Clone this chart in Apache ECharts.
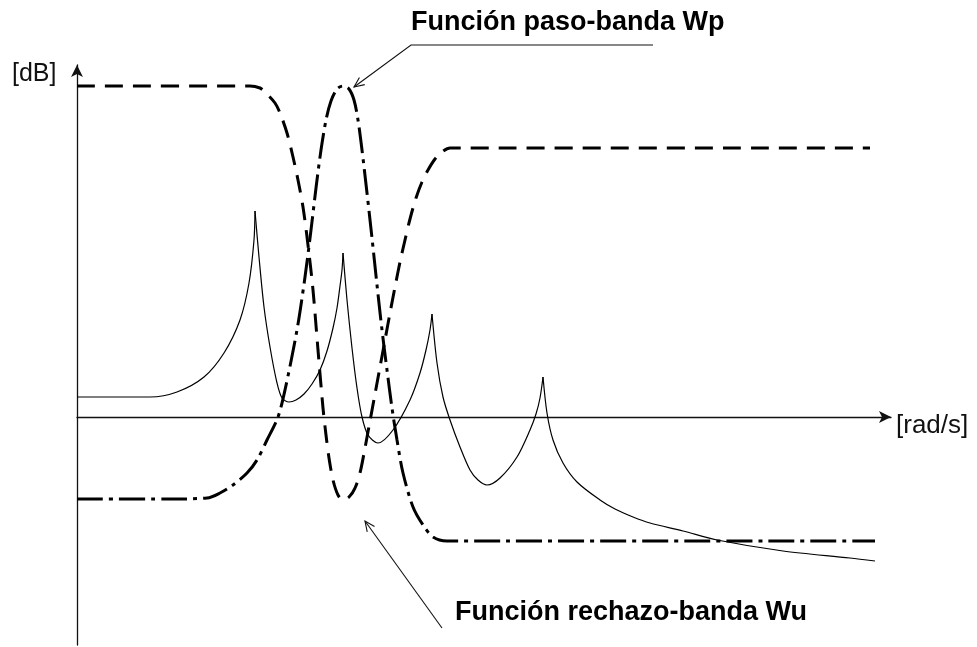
<!DOCTYPE html>
<html>
<head>
<meta charset="utf-8">
<script src="https://cdn.jsdelivr.net/npm/echarts@6/dist/echarts.min.js"></script>
<style>
  html, body { margin: 0; padding: 0; background: #fff; }
  #chart { width: 977px; height: 647px; }
</style>
</head>
<body>
<div id="chart"></div>
<script>
// Frequency runs in arbitrary units from the origin; level in arbitrary dB units (0 = axis).

// Plant response |G(jw)| with its resonances (solid thin line)
const plantResponse = [
  [0, 20], [73, 20], [100, 25], [127, 40], [147, 64], [163, 97], [172, 134], [177, 177], [178, 206],
  [182, 160], [187, 110], [193, 70], [200, 34], [205, 19], [212, 15], [219, 17], [227, 23], [235, 33], [243, 47],
  [250, 66], [256, 89], [260, 109], [263, 131], [265, 147], [266, 164],
  [270, 117], [275, 69], [280, 29], [285, 0], [291, -18], [301, -26], [316, -13], [333, 17], [343, 44], [349, 67], [353, 87], [355, 103],
  [360, 54], [366, 20], [373, -3], [383, -30], [393, -53], [401, -63], [410, -68], [423, -61], [440, -40], [453, -13], [459, 3], [463, 19], [466, 40],
  [470, 4], [476, -23], [486, -46], [500, -65], [523, -83], [538, -92], [556, -100], [573, -106], [606, -114], [640, -123],
  [706, -134], [773, -141], [798, -144]
];
// Frequencies of the resonance peaks (sharp corners of the plant response)
const resonanceW = [178, 266, 355, 466];

// Band-pass weighting Wp (dash-dot)
const bandPassWp = [
  [0, -82], [90, -82], [130, -81], [143, -76], [156, -68], [170, -56], [180, -43], [190, -23], [201, 0],
  [208, 27], [220, 87], [228, 140], [234, 187], [239, 229], [244, 267], [249, 297], [254, 316], [260, 328], [266, 331],
  [272, 328], [277, 317], [281, 297], [285, 267], [290, 224], [295, 179], [300, 132], [305, 87], [310, 47], [315, 9],
  [320, -23], [326, -56], [336, -90], [346, -108], [356, -120], [370, -124], [798, -124]
];

// Band-stop weighting Wu (dashed)
const bandStopWu = [
  [0, 331], [173, 331], [183, 329], [188, 325], [198, 314], [203, 304], [210, 284], [216, 260], [221, 237], [226, 210],
  [231, 172], [236, 127], [241, 67], [246, 9], [249, -18], [252, -41], [256, -63], [261, -78], [266, -83],
  [272, -80], [278, -71], [283, -56], [288, -31], [293, -4], [298, 23], [303, 50], [308, 77], [313, 104], [318, 130],
  [323, 155], [328, 177], [333, 198], [339, 219], [345, 235], [351, 247], [358, 258], [365, 265], [373, 269], [793, 269]
];

const axisNames = { level: '[dB]', freq: '[rad/s]' };
const labelWp = 'Función paso-banda Wp';
const labelWu = 'Función rechazo-banda Wu';

// split the plant response at each resonance so the peaks stay sharp
function splitAtPeaks(points, peaks) {
  const parts = [];
  let cur = [];
  points.forEach(p => {
    cur.push(p);
    if (peaks.indexOf(p[0]) >= 0) { parts.push(cur); cur = [p]; }
  });
  if (cur.length > 1) parts.push(cur);
  return parts;
}

const FONT = '"Liberation Sans", Arial, Helvetica, sans-serif';

const chart = echarts.init(document.getElementById('chart'), null, { renderer: 'canvas' });

const responseSeries = splitAtPeaks(plantResponse, resonanceW).map(seg => ({
  type: 'line',
  data: seg,
  smooth: 0.3,
  showSymbol: false,
  symbol: 'none',
  silent: true,
  lineStyle: { color: '#000', width: 1.2 }
}));

chart.setOption({
  animation: false,
  backgroundColor: '#fff',
  grid: { left: 77, right: 86, top: 65, bottom: 2 },
  xAxis: {
    type: 'value', min: 0, max: 814,
    axisLine: {
      onZero: true,
      symbol: ['none', 'arrow'],
      symbolSize: [9, 12],
      lineStyle: { color: '#111', width: 1.3 }
    },
    axisTick: { show: false }, axisLabel: { show: false }, splitLine: { show: false }
  },
  yAxis: {
    type: 'value', min: -228, max: 352,
    axisLine: {
      show: true, onZero: false,
      symbol: ['none', 'arrow'],
      symbolSize: [9, 12],
      lineStyle: { color: '#111', width: 1.3 }
    },
    axisTick: { show: false }, axisLabel: { show: false }, splitLine: { show: false }
  },
  series: responseSeries.concat([
    {
      type: 'line', name: 'Wp', data: bandPassWp,
      smooth: 0.3, showSymbol: false, symbol: 'none', silent: true,
      lineStyle: { color: '#000', width: 3, type: [26, 6, 4, 6], cap: 'butt' }
    },
    {
      type: 'line', name: 'Wu', data: bandStopWu,
      smooth: 0.3, showSymbol: false, symbol: 'none', silent: true,
      lineStyle: { color: '#000', width: 3, type: [18, 10], cap: 'butt' }
    }
  ])
});

// annotation leaders: tips placed next to the peak of Wp and the dip of Wu
function extremum(points, cmp) {
  return points.reduce((a, b) => (cmp(b[1], a[1]) ? b : a));
}
const peakWp = chart.convertToPixel({ gridIndex: 0 }, extremum(bandPassWp, (a, b) => a > b));
const dipWu = chart.convertToPixel({ gridIndex: 0 }, extremum(bandStopWu, (a, b) => a < b));

function leader(tip, elbow, end) {
  const dx = elbow[0] - tip[0], dy = elbow[1] - tip[1];
  const len = Math.sqrt(dx * dx + dy * dy);
  const ux = dx / len, uy = dy / len;
  const a = 0.42, h = 11;
  const rot = (ang) => [tip[0] + h * (ux * Math.cos(ang) - uy * Math.sin(ang)),
                        tip[1] + h * (ux * Math.sin(ang) + uy * Math.cos(ang))];
  const style = { stroke: '#111', lineWidth: 1.1, fill: null };
  const pts = end ? [tip, elbow, end] : [tip, elbow];
  return [
    { type: 'polyline', shape: { points: pts }, style: style, silent: true },
    { type: 'polyline', shape: { points: [rot(a), tip, rot(-a)] }, style: style, silent: true }
  ];
}

const tipWp = [peakWp[0] + 11, peakWp[1] + 1];
const tipWu = [dipWu[0] + 22, dipWu[1] + 21];

const graphics = [].concat(
  leader(tipWp, [411, 45], [653, 45]),
  leader(tipWu, [442, 628]),
  [
    { type: 'text', left: 12, top: 62, style: { text: axisNames.level, font: '25px ' + FONT, fill: '#111' }, silent: true },
    { type: 'text', left: 896, top: 413, style: { text: axisNames.freq, font: '26px ' + FONT, fill: '#111' }, silent: true },
    { type: 'text', left: 411, top: 9, style: { text: labelWp, font: 'bold 27px ' + FONT, fill: '#000' }, silent: true },
    { type: 'text', left: 455, top: 599, style: { text: labelWu, font: 'bold 27px ' + FONT, fill: '#000' }, silent: true }
  ]
);
chart.setOption({ graphic: graphics });
</script>
</body>
</html>
